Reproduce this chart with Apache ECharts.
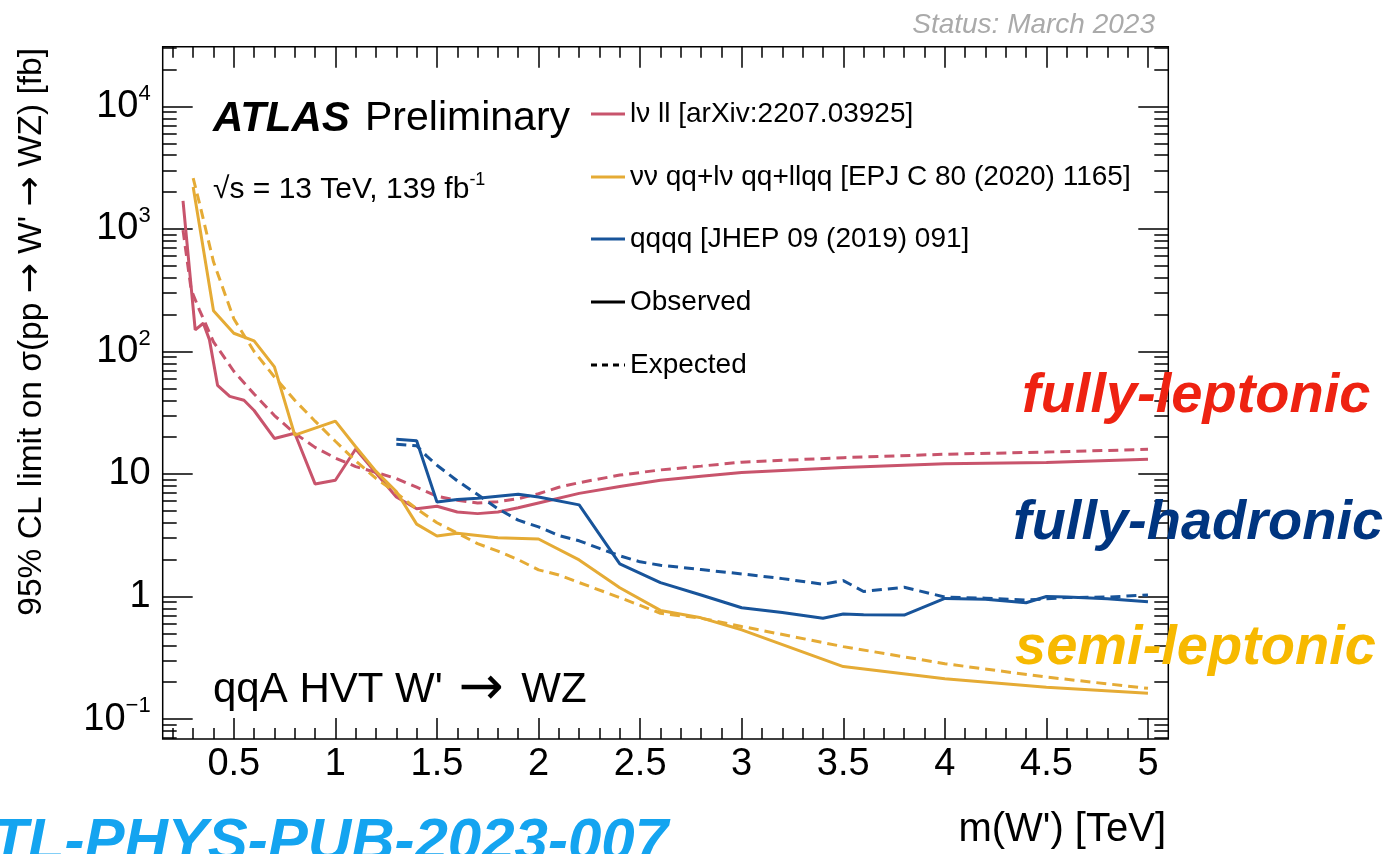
<!DOCTYPE html>
<html><head><meta charset="utf-8">
<script src="https://cdn.jsdelivr.net/npm/echarts@6/dist/echarts.min.js"></script>
<style>html,body{margin:0;padding:0;background:#fff}#c{width:1383px;height:854px}</style>
</head><body><div id="c"></div>
<script>
// ---- axis ranges / ticks ----
const XMIN = 0.15, XMAX = 5.1;
const YMIN = 0.0687, YMAX = 30770;
const xMajor = [0.5, 1, 1.5, 2, 2.5, 3, 3.5, 4, 4.5, 5];
const xMinor = [0.2,0.3,0.4,0.6,0.7,0.8,0.9,1.1,1.2,1.3,1.4,1.6,1.7,1.8,1.9,2.1,2.2,2.3,2.4,2.6,2.7,2.8,2.9,3.1,3.2,3.3,3.4,3.6,3.7,3.8,3.9,4.1,4.2,4.3,4.4,4.6,4.7,4.8,4.9];
const yMajor = [0.1, 1, 10, 100, 1000, 10000];
const yMinor = [0.07,0.08,0.09,0.2,0.3,0.4,0.5,0.6,0.7,0.8,0.9,2,3,4,5,6,7,8,9,20,30,40,50,60,70,80,90,200,300,400,500,600,700,800,900,2000,3000,4000,5000,6000,7000,8000,9000,20000,30000];

// ---- series data: [m(W') TeV, limit fb] ----
const lvllObs = [[0.25,1700],[0.31,150],[0.35,170],[0.38,125],[0.42,53],[0.48,43],[0.55,40],[0.6,33],[0.7,19.5],[0.8,21.5],[0.9,8.3],[1.0,8.9],[1.1,16],[1.2,10.2],[1.3,6.5],[1.4,5.2],[1.5,5.45],[1.6,4.9],[1.7,4.75],[1.8,4.9],[1.9,5.3],[2.0,5.8],[2.2,6.95],[2.4,7.9],[2.6,8.9],[2.8,9.6],[3.0,10.3],[3.5,11.3],[4.0,12.1],[4.5,12.4],[5.0,13.2]];
const lvllExp = [[0.25,980],[0.29,320],[0.33,220],[0.4,120],[0.5,69],[0.6,45],[0.7,30],[0.8,21.5],[0.9,16.5],[1.0,13.5],[1.1,11.5],[1.2,10.3],[1.3,9.2],[1.4,7.8],[1.5,6.6],[1.6,6.1],[1.7,5.8],[1.8,5.95],[1.9,6.3],[2.0,6.9],[2.1,7.8],[2.2,8.5],[2.4,9.8],[2.6,10.8],[2.8,11.6],[3.0,12.5],[3.5,13.6],[4.0,14.5],[4.5,15.1],[5.0,15.9]];
const semiObs = [[0.3,2200],[0.4,215],[0.5,141],[0.6,122],[0.7,75],[0.8,20.8],[1.0,27],[1.1,16.7],[1.2,10.5],[1.3,7.2],[1.4,3.9],[1.5,3.12],[1.6,3.28],[1.8,3.02],[2.0,2.95],[2.2,1.99],[2.4,1.18],[2.6,0.77],[2.8,0.67],[3.0,0.535],[3.5,0.268],[4.0,0.213],[4.5,0.182],[5.0,0.162]];
const semiExp = [[0.3,2600],[0.33,1650],[0.4,540],[0.5,185],[0.6,100],[0.7,62],[0.8,40],[0.9,27],[1.0,18.5],[1.1,12.8],[1.2,9.2],[1.3,7.0],[1.4,5.2],[1.5,4.0],[1.6,3.3],[1.7,2.7],[1.8,2.35],[1.9,2.0],[2.0,1.65],[2.1,1.5],[2.2,1.3],[2.4,0.98],[2.6,0.73],[2.8,0.665],[3.0,0.57],[3.5,0.39],[4.0,0.283],[4.5,0.22],[5.0,0.178]];
const hadObs = [[1.3,19.2],[1.4,18.7],[1.5,5.9],[1.6,6.2],[1.7,6.35],[1.9,6.85],[2.0,6.5],[2.2,5.6],[2.4,1.85],[2.6,1.3],[2.8,1.03],[3.0,0.81],[3.2,0.74],[3.4,0.665],[3.5,0.72],[3.6,0.71],[3.8,0.706],[4.0,0.965],[4.2,0.95],[4.4,0.89],[4.5,1.0],[4.6,0.99],[4.8,0.96],[5.0,0.905]];
const hadExp = [[1.3,17.5],[1.4,17.0],[1.45,14],[1.5,11.8],[1.6,8.8],[1.7,6.8],[1.8,5.2],[1.9,4.2],[2.0,3.7],[2.1,3.15],[2.2,2.85],[2.3,2.47],[2.4,2.15],[2.5,1.92],[2.6,1.8],[2.8,1.66],[3.0,1.53],[3.2,1.4],[3.4,1.26],[3.5,1.35],[3.6,1.1],[3.8,1.19],[4.0,0.99],[4.2,0.97],[4.4,0.935],[4.6,0.98],[4.8,0.99],[5.0,1.03]];

const legendNames = ['lν ll [arXiv:2207.03925]', 'νν qq+lν qq+llqq [EPJ C 80 (2020) 1165]', 'qqqq [JHEP 09 (2019) 091]', 'Observed', 'Expected'];

const RED = '#c8546c', YEL = '#e5ab35', BLU = '#18549a';
const FF = '"Liberation Sans", Arial, Helvetica, sans-serif';
const DASH = [10, 6];
const legendColors = [RED, YEL, BLU, '#000', '#000'];
const legendDash = [null, null, null, null, [6, 5]];
const legendRowY = [114, 177, 239, 302, 365];

function xAx(pos, vals, len, label) {
  return {
    type: 'value', min: XMIN, max: XMAX, position: pos, gridIndex: 0,
    axisLine: {show: false}, splitLine: {show: false},
    axisTick: {show: true, inside: true, length: len, customValues: vals, lineStyle: {color: '#000', width: 1.5}},
    axisLabel: label ? {show: true, customValues: vals, margin: 7, fontSize: 38, fontFamily: FF, color: '#000', formatter: v => String(v)} : {show: false}
  };
}
function yFmt(v) {
  const k = Math.round(Math.log10(v));
  if (k === 0) return '{b|1}';
  if (k === 1) return '{b|10}';
  return '{b|10}{s|' + (k < 0 ? '\u2212' : '') + Math.abs(k) + '}';
}
function yAx(pos, vals, len, label) {
  return {
    type: 'log', logBase: 10, min: YMIN, max: YMAX, position: pos, gridIndex: 0,
    axisLine: {show: false}, splitLine: {show: false}, minorTick: {show: false},
    axisTick: {show: true, inside: true, length: len, customValues: vals, lineStyle: {color: '#000', width: 1.5}},
    axisLabel: label ? {show: true, customValues: vals, margin: 12, color: '#000', formatter: yFmt,
      rich: {b: {fontSize: 38, fontFamily: FF, color: '#000'}, s: {fontSize: 22, fontFamily: FF, color: '#000', padding: [0, 0, 26, 0]}}} : {show: false}
  };
}
function line(name, data, color, dashed) {
  return {type: 'line', name, data, xAxisIndex: 0, yAxisIndex: 0, symbol: 'none', showSymbol: false,
    lineStyle: {color, width: 3, type: dashed ? DASH : 'solid'}, itemStyle: {color}, clip: true, z: 5};
}

// legend drawn as graphic lines + texts
const legendGraphics = [];
legendNames.forEach((n, i) => {
  legendGraphics.push({type: 'line', shape: {x1: 591, y1: legendRowY[i], x2: 625, y2: legendRowY[i]},
    style: {stroke: legendColors[i], lineWidth: 3, lineDash: legendDash[i] || null}});
  legendGraphics.push({type: 'text', x: 630, y: legendRowY[i],
    style: {text: n, font: '28px ' + FF, fill: '#000', textAlign: 'left', textVerticalAlign: 'middle'}});
});

const chart = echarts.init(document.getElementById('c'), null, {renderer: 'canvas'});
chart.setOption({
  animation: false,
  backgroundColor: '#fff',
  grid: {left: 162.7, right: 214.7, top: 46.7, bottom: 115, show: true, borderColor: '#000', borderWidth: 1.5, backgroundColor: 'transparent'},
  xAxis: [xAx('bottom', xMajor, 21, true), xAx('bottom', xMinor, 11, false), xAx('top', xMajor, 21, false), xAx('top', xMinor, 11, false)],
  yAxis: [yAx('left', yMajor, 30, true), yAx('left', yMinor, 14, false), yAx('right', yMajor, 30, false), yAx('right', yMinor, 14, false)],
  series: [
    line(legendNames[0], lvllObs, RED, false),
    line('lvll expected', lvllExp, RED, true),
    line(legendNames[1], semiObs, YEL, false),
    line('semi expected', semiExp, YEL, true),
    line(legendNames[2], hadObs, BLU, false),
    line('qqqq expected', hadExp, BLU, true)
  ],
  graphic: legendGraphics.concat([
    {type: 'text', x: 1155, y: 25, style: {text: 'Status: March 2023', font: 'italic 28px ' + FF, fill: '#aaaaaa', textAlign: 'right', textVerticalAlign: 'middle'}},
    {type: 'text', x: 213, y: 119, style: {text: 'ATLAS', font: 'italic bold 42px ' + FF, fill: '#000', textAlign: 'left', textVerticalAlign: 'middle'}},
    {type: 'text', x: 365, y: 119, style: {text: 'Preliminary', font: '41px ' + FF, fill: '#000', textAlign: 'left', textVerticalAlign: 'middle'}},
    {type: 'text', x: 213, y: 190, style: {text: '√s = 13 TeV, 139 fb{s|-1}', font: '30px ' + FF, fill: '#000', textAlign: 'left', textVerticalAlign: 'middle',
      rich: {s: {fontSize: 18, fontFamily: FF, fill: '#000', padding: [0, 0, 20, 0]}}}},
    {type: 'text', x: 213, y: 690, style: {text: "qqA HVT W' {a|→} WZ", font: '42px ' + FF, fill: '#000', textAlign: 'left', textVerticalAlign: 'middle',
      rich: {a: {fontSize: 54, fontFamily: '"DejaVu Sans"', fill: '#000', padding: [0, 6, 0, 4]}}}},
    {type: 'text', x: 1022, y: 397, z: 10, style: {text: 'fully-leptonic', font: 'italic bold 56px ' + FF, fill: '#ee2211', textAlign: 'left', textVerticalAlign: 'middle'}},
    {type: 'text', x: 1013, y: 524, z: 10, style: {text: 'fully-hadronic', font: 'italic bold 56px ' + FF, fill: '#003580', textAlign: 'left', textVerticalAlign: 'middle'}},
    {type: 'text', x: 1015, y: 649, z: 10, style: {text: 'semi-leptonic', font: 'italic bold 56px ' + FF, fill: '#f7b900', textAlign: 'left', textVerticalAlign: 'middle'}},
    {type: 'text', x: 668, y: 843, style: {text: 'ATL-PHYS-PUB-2023-007', font: 'italic bold 60px ' + FF, fill: '#14a4f0', textAlign: 'right', textVerticalAlign: 'middle'}},
    {type: 'text', x: 1166, y: 830, style: {text: "m(W') [TeV]", font: '40px ' + FF, fill: '#000', textAlign: 'right', textVerticalAlign: 'middle'}},
    {type: 'text', x: 32, y: 48, rotation: Math.PI / 2, style: {text: "95% CL limit on σ(pp {a|→} W' {a|→} WZ) [fb]", font: '33.5px ' + FF, fill: '#000', textAlign: 'right', textVerticalAlign: 'middle',
      rich: {a: {fontSize: 36, fontFamily: '"DejaVu Sans"', fill: '#000'}}}}
  ])
});
</script></body></html>
